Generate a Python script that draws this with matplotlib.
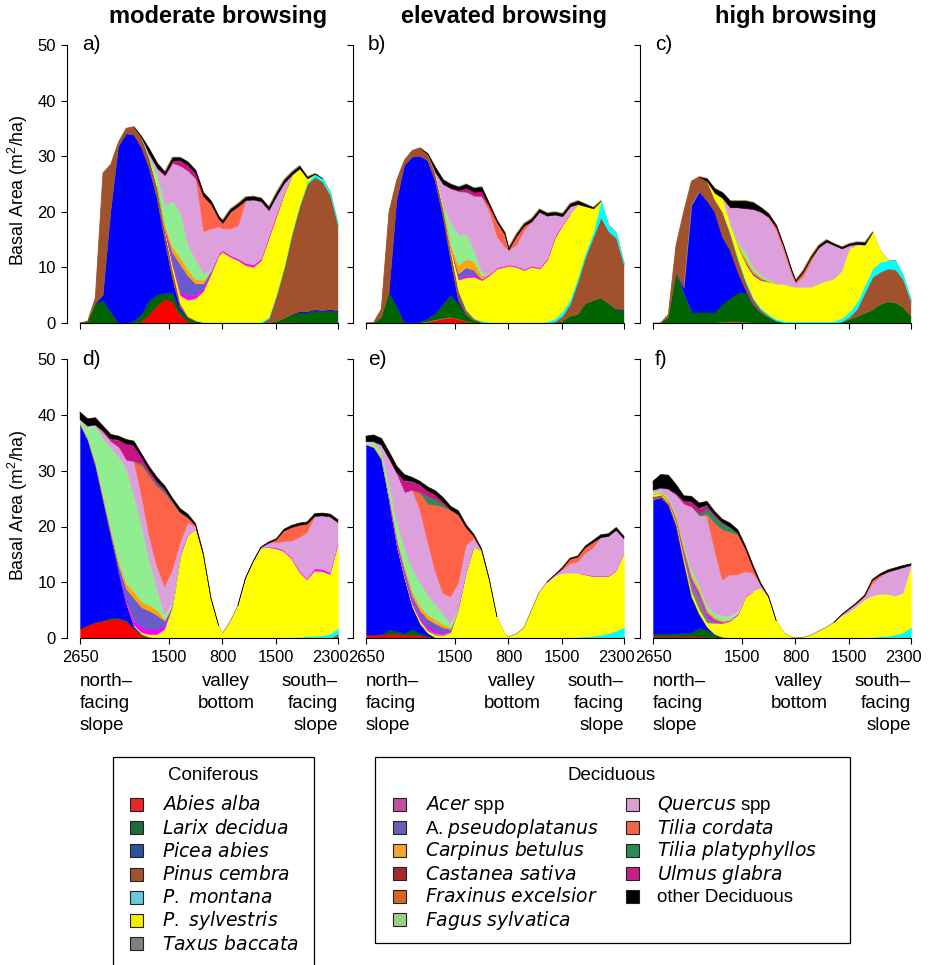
import numpy as np
import matplotlib.pyplot as plt
from matplotlib.patches import Rectangle
from matplotlib.transforms import ScaledTranslation

plt.rcParams['font.family'] = ['Liberation Sans', 'DejaVu Sans']
plt.rcParams['mathtext.fontset'] = 'custom'
plt.rcParams['mathtext.rm'] = 'Liberation Sans'
plt.rcParams['mathtext.it'] = 'DejaVu Sans:italic'

# transect: north-facing slope from 2650 m down to the valley (800 m), then up the south-facing slope
north_elev = [2650, 2550, 2450, 2350, 2250, 2150, 2050, 1950, 1850, 1750,
              1650, 1550, 1450, 1350, 1250, 1150, 1050, 950, 850]
valley_elev = 800
south_elev = [900, 1000, 1100, 1200, 1300, 1400, 1500, 1600, 1700, 1800,
              1900, 2000, 2100, 2200, 2300]
tick_labels = ['2650', '1500', '800', '1500', '2300']

# species codes in stacking order (bottom -> top)
species = ['Aa', 'Ld', 'Pa', 'Pc', 'Pm', 'Ps', 'Tb',
           'Ac', 'Ap', 'Cb', 'Cs', 'Fe', 'Fs', 'Qu', 'Tc', 'Tp', 'Ug', 'oD']

fill_colors = {'Aa': '#FF0000', 'Ld': '#006400', 'Pa': '#0000FF', 'Pc': '#A0522D',
               'Pm': '#00FFFF', 'Ps': '#FFFF00', 'Tb': '#808080', 'Ac': '#FF00FF',
               'Ap': '#6A5ACD', 'Cb': '#FFA500', 'Cs': '#A52A2A', 'Fe': '#D2691E',
               'Fs': '#90EE90', 'Qu': '#DDA0DD', 'Tc': '#FF6347', 'Tp': '#2E8B57',
               'Ug': '#C71585', 'oD': '#000000'}
legend_colors = {'Aa': '#E8262B', 'Ld': '#1E6B3A', 'Pa': '#2F4FA0', 'Pc': '#A0522D',
                 'Pm': '#6BC9D9', 'Ps': '#F5EC00', 'Tb': '#808080', 'Ac': '#C24FA5',
                 'Ap': '#6A5FB0', 'Cb': '#F5A623', 'Cs': '#A52A2A', 'Fe': '#D2691E',
                 'Fs': '#98CF89', 'Qu': '#D8A2CE', 'Tc': '#F26649', 'Tp': '#2E8B57',
                 'Ug': '#C71F8A', 'oD': '#000000'}

# basal area (m2/ha) per species along the transect, one record per elevation step
panel_a = [
    {},                                                                   # 2650
    dict(Ld=.2, Pc=.1),                                                   # 2550
    dict(Ld=3.5, Pc=1),                                                   # 2450
    dict(Ld=4, Pa=1, Pc=22),                                              # 2350
    dict(Ld=2, Pa=18, Pc=8.5),                                            # 2250
    dict(Pa=31.7, Pc=.8),                                                 # 2150
    dict(Pa=34, Pc=1),                                                    # 2050
    dict(Ld=.3, Pa=33.5, Pc=1.5),                                         # 1950
    dict(Aa=.2, Ld=1.3, Pa=30, Pc=1.8, oD=.2),                            # 1850
    dict(Aa=1.5, Ld=2.5, Pa=23.8, Pc=1.7, Fs=.5, Qu=.3, oD=1),            # 1750
    dict(Aa=3, Ld=2, Pa=17.5, Pc=1.8, Ps=.2, Fs=2.2, Qu=1.2, oD=.9),      # 1650
    dict(Aa=4.2, Ld=1.1, Pa=9.7, Pc=1.5, Ps=.2, Ac=.1, Ap=.3, Cb=.5, Fs=3.6, Qu=5.3, Ug=.2, oD=.5),
    dict(Aa=3.8, Ld=1.7, Pa=2.5, Pc=1.5, Ps=.8, Ac=.4, Ap=2, Cb=1, Fs=8.3, Qu=6.8, Ug=.4, oD=.6),
    dict(Aa=1.5, Ld=.8, Pa=.5, Pc=.7, Ps=1.5, Ac=.6, Ap=5, Cb=1.2, Fs=8, Qu=8.5, Ug=1, oD=.5),
    dict(Aa=.2, Ld=.6, Pa=.1, Pc=.3, Ps=3, Ac=.8, Ap=3.5, Cb=1, Fs=4.5, Qu=13.4, Ug=1, oD=.6),
    dict(Ld=.3, Pc=.2, Ps=4, Ac=.6, Ap=2, Cb=.8, Fs=3.5, Qu=14.6, Ug=.9, oD=.6),       # 1150
    dict(Ld=.1, Pm=.1, Ps=5.6, Ac=.5, Ap=.8, Cb=.6, Fs=1.2, Qu=7.6, Tc=6.3, oD=.7),    # 1050
    dict(Pm=.2, Ps=8.7, Ac=.4, Cb=.2, Fs=.2, Qu=7.3, Tc=4.4, oD=.6),     # 950
    dict(Pm=.2, Ps=12, Ac=.3, Qu=4.8, Tc=1.4, oD=.5),                     # 850
    dict(Pm=.2, Ps=12.6, Ac=.3, Qu=3.9, Tc=1, oD=.5),                     # 800
    dict(Pm=.2, Ps=11.7, Ac=.3, Qu=4.8, Tc=3, oD=.5),                     # 900
    dict(Pm=.2, Ps=11.1, Ac=.3, Qu=6, Tc=3.4, oD=.5),                     # 1000
    dict(Pm=.2, Ps=10.2, Ac=.4, Qu=11.3, oD=.6),                          # 1100
    dict(Pm=.2, Ps=9.9, Ac=.4, Qu=11.7, oD=.6),                           # 1200
    dict(Pm=.2, Ps=11.1, Ac=.3, Qu=10.3, oD=.6),                          # 1300
    dict(Pc=.8, Pm=.3, Ps=14.2, Ac=.2, Cb=.2, Qu=4.6, oD=.6),             # 1400
    dict(Ld=.3, Pc=4.7, Pm=.3, Ps=14, Ac=.2, Cb=.2, Qu=3.2, oD=.6),       # 1500
    dict(Aa=.1, Ld=.7, Pc=9.2, Pm=.3, Ps=13, Ac=.1, Qu=1.8, oD=.6),       # 1600
    dict(Aa=.1, Ld=1.4, Pc=14.5, Pm=.3, Ps=10.3, Qu=.1, oD=.5),           # 1700
    dict(Ld=1.8, Pa=.2, Pc=19, Pm=.3, Ps=6.5, oD=.5),                     # 1800
    dict(Ld=1.8, Pa=.2, Pc=23, Pm=.4, Ps=.6, oD=.3),                      # 1900
    dict(Ld=2.2, Pa=.2, Pc=23.9, Pm=.5, oD=.1),                           # 2000
    dict(Ld=2, Pa=.2, Pc=23.2, Pm=.6),                                    # 2100
    dict(Ld=2.2, Pa=.2, Pc=20.6, Pm=.5),                                  # 2200
    dict(Ld=2, Pa=.2, Pc=15.3, Pm=.3),                                    # 2300
]

panel_b = [
    {},                                                                   # 2650
    dict(Pc=.1),                                                          # 2550
    dict(Ld=1, Pc=1.5),                                                   # 2450
    dict(Ld=5.5, Pc=14.5),                                                # 2350
    dict(Ld=3, Pa=19, Pc=3.7),                                            # 2250
    dict(Ld=.1, Pa=28.2, Pc=1),                                           # 2150
    dict(Pa=29.8, Pc=1.2),                                                # 2050
    dict(Ld=.2, Pa=29.8, Pc=1.5),                                         # 1950
    dict(Aa=.2, Ld=.5, Pa=28.5, Pc=1.2, oD=.1),                           # 1850
    dict(Aa=.5, Ld=1.2, Pa=23.8, Pc=1.2, Qu=.4, oD=.9),                   # 1750
    dict(Aa=.8, Ld=2.5, Pa=15.8, Pc=1.4, Ps=.3, Fs=.4, Qu=3.8, oD=.8),    # 1650
    dict(Aa=1, Ld=4, Pa=6.3, Pc=1.5, Ps=.5, Ac=.1, Ap=.1, Cb=.4, Fs=4, Qu=6.3, Ug=.1, oD=.7),
    dict(Aa=.7, Ld=2.8, Pa=.6, Pc=1.7, Ps=2, Ac=.3, Ap=.8, Cb=1.5, Fs=5.5, Qu=7.8, Ug=.2, oD=.6),
    dict(Aa=.3, Ld=1.2, Pc=.8, Pm=.1, Ps=5.8, Ac=.4, Ap=1.4, Cb=1.5, Fs=4.5, Qu=7.6, Ug=.7, oD=.7),
    dict(Ld=.4, Pc=.4, Pm=.1, Ps=7.4, Ac=.4, Ap=.8, Cb=1.5, Fs=2, Qu=9.9, Ug=.7, oD=.7),
    dict(Ld=.1, Pc=.1, Pm=.2, Ps=7.3, Ac=.2, Cb=.6, Fs=.6, Qu=13.7, Ug=.9, oD=.8),   # 1150
    dict(Pm=.2, Ps=8.4, Ac=.2, Qu=11.2, Tc=1, oD=.5),                     # 1050
    dict(Pm=.2, Ps=9.6, Ac=.2, Qu=5.5, Tc=2.6, oD=.4),                    # 950
    dict(Pm=.2, Ps=9.9, Ac=.2, Qu=3.4, Tc=2.2, oD=.4),                    # 850
    dict(Pm=.2, Ps=10.1, Ac=.2, Qu=2.6, Tc=.1, oD=.3),                    # 800
    dict(Pm=.2, Ps=9.9, Ac=.2, Qu=3.8, Tc=1.5, oD=.4),                    # 900
    dict(Pm=.2, Ps=9.3, Ac=.2, Qu=7, Tc=.8, oD=.4),                       # 1000
    dict(Pm=.2, Ps=9.9, Ac=.2, Qu=8, oD=.5),                              # 1100
    dict(Pm=.2, Ps=9.6, Ac=.2, Qu=10, oD=.5),                             # 1200
    dict(Pm=.3, Ps=11, Ac=.2, Qu=7.8, oD=.5),                             # 1300
    dict(Pc=.3, Pm=.5, Ps=14.5, Ac=.1, Cb=.2, Qu=3.9, oD=.5),             # 1400
    dict(Ld=.3, Pc=1, Pm=.8, Ps=15.5, Ac=.1, Qu=1.5, oD=.5),              # 1500
    dict(Ld=1.2, Pc=2.3, Pm=.8, Ps=15.4, Qu=1.3, oD=.5),                  # 1600
    dict(Ld=1.5, Pc=6, Pm=.8, Ps=13, Qu=.1, oD=.6),                       # 1700
    dict(Ld=3.5, Pc=8.5, Pm=.8, Ps=8.2, oD=.4),                           # 1800
    dict(Ld=4, Pc=11.5, Pm=.9, Ps=4.2, oD=.2),                            # 1900
    dict(Ld=4.5, Pc=14.5, Pm=3),                                          # 2000
    dict(Ld=3.5, Pc=13, Pm=1.1),                                          # 2100
    dict(Ld=2.5, Pc=12.8, Pm=.9),                                         # 2200
    dict(Ld=2.2, Pa=.2, Pc=8, Pm=.3),                                     # 2300
]

panel_c = [
    {},                                                                   # 2650
    {},                                                                   # 2550
    dict(Ld=1, Pc=.5),                                                    # 2450
    dict(Ld=9, Pc=5),                                                     # 2350
    dict(Ld=5.3, Pa=1, Pc=13.7),                                          # 2250
    dict(Ld=2, Pa=19.2, Pc=4.3),                                          # 2150
    dict(Ld=2, Pa=21.6, Pc=2.7),                                          # 2050
    dict(Ld=2, Pa=20, Pc=3.5, oD=.5),                                     # 1950
    dict(Ld=2, Pa=18, Pc=2.2, Ps=1.2, oD=.8),                             # 1850
    dict(Aa=.1, Ld=3.4, Pa=12, Pc=4.5, Ps=2.5, oD=1),                     # 1750
    dict(Aa=.2, Ld=4.3, Pa=8.6, Pc=3, Pm=.2, Ps=1.5, Qu=3, oD=1.2),       # 1650
    dict(Aa=.2, Ld=5.3, Pa=3.7, Pc=2.3, Pm=.3, Ps=2, Cb=.3, Fs=.5, Qu=6.2, oD=1.2),
    dict(Aa=.1, Ld=5.4, Pa=.5, Pc=1.5, Pm=.3, Ps=3, Ap=.3, Cb=.6, Fs=1, Qu=7.9, Ug=.1, oD=1.3),
    dict(Ld=3.2, Pa=.1, Pc=1, Pm=.3, Ps=4, Ac=.1, Ap=.3, Cb=.4, Fs=.6, Qu=10.5, oD=1.2),
    dict(Ld=1.8, Pc=.6, Pm=.3, Ps=5, Ac=.1, Ap=.2, Cb=.3, Fs=.4, Qu=11.3, oD=.8),
    dict(Ld=1, Pc=.3, Pm=.3, Ps=5.8, Cb=.2, Fs=.3, Qu=11, Tc=.2, oD=.6),   # 1150
    dict(Ld=.4, Pm=.3, Ps=6.4, Qu=9.6, Tc=.5, oD=.4),                     # 1050
    dict(Ld=.1, Pm=.3, Ps=6.6, Qu=5.8, Tc=.7, oD=.3),                     # 950
    dict(Pm=.3, Ps=6.3, Qu=2, Tc=.6, oD=.3),                              # 850
    dict(Pm=.3, Ps=6.2, Qu=.7, Tc=.3, oD=.2),                             # 800
    dict(Pm=.3, Ps=6.2, Qu=2, Tc=.7, oD=.3),                              # 900
    dict(Pm=.3, Ps=6.2, Qu=4.7, Tc=.5, oD=.3),                            # 1000
    dict(Pm=.3, Ps=6.8, Qu=6.5, oD=.4),                                   # 1100
    dict(Pm=.3, Ps=7.3, Qu=7, oD=.4),                                     # 1200
    dict(Pm=.4, Ps=7.6, Qu=6, oD=.3),                                     # 1300
    dict(Ld=.1, Pc=.2, Pm=.6, Ps=8.5, Qu=4, oD=.3),                       # 1400
    dict(Ld=.6, Pc=.5, Pm=.9, Ps=11.5, Qu=.5, oD=.3),                     # 1500
    dict(Ld=1.1, Pc=1.5, Pm=1.2, Ps=10.2, Qu=.2, oD=.4),                  # 1600
    dict(Ld=1.7, Pc=3.8, Pm=1.3, Ps=7.3, oD=.4),                          # 1700
    dict(Ld=2.3, Pc=6, Pm=1.5, Ps=6.6),                                   # 1800
    dict(Ld=3.3, Pc=5.9, Pm=1.8, Ps=2),                                   # 1900
    dict(Ld=3.8, Pc=6, Pm=1.5),                                           # 2000
    dict(Ld=3.6, Pc=6, Pm=1.6),                                           # 2100
    dict(Ld=2.8, Pc=5, Pm=.7),                                            # 2200
    dict(Ld=1.2, Pc=2.6, Pm=.3),                                          # 2300
]

panel_d = [
    dict(Aa=1.7, Pa=36.6, Cb=.2, Fs=.5, Qu=.2, oD=1.3),                   # 2650
    dict(Aa=2.3, Ld=.1, Pa=33, Ap=.2, Cb=.3, Fs=1.8, Qu=.3, oD=1.3),      # 2550
    dict(Aa=2.8, Ld=.1, Pa=27.8, Ap=.3, Cb=.5, Fs=6.5, Qu=.2, oD=1.3),    # 2450
    dict(Aa=3.1, Ld=.1, Pa=21.2, Ap=.4, Cb=.6, Fs=10.5, Qu=1, Ug=.3, oD=.8),
    dict(Aa=3.4, Ld=.2, Pa=14.5, Ap=.6, Cb=.7, Fs=14.6, Qu=1.3, Ug=.4, oD=.8),
    dict(Aa=3.4, Ld=.2, Pa=8.3, Ap=1, Cb=.8, Fs=18.9, Qu=1.7, Ug=1.2, oD=.7),
    dict(Aa=3, Ld=.2, Pa=3, Ac=.4, Ap=2.2, Cb=1, Fs=20.6, Qu=1.6, Ug=2.8, oD=.8),
    dict(Aa=1.6, Ld=.2, Pa=.3, Ps=.2, Ac=.8, Ap=4, Cb=1.2, Fs=17.3, Qu=6.1, Ug=2.8, oD=.8),
    dict(Aa=.5, Ld=.2, Ps=.3, Ac=1, Ap=3.5, Cb=1, Fs=13.8, Qu=5.1, Tc=5.6, Tp=.4, Ug=1, oD=.6),
    dict(Aa=.1, Ld=.1, Ps=.4, Ac=1, Ap=3.3, Cb=1, Fs=8.1, Qu=4.2, Tc=10.8, Tp=.4, Ug=.7, oD=.6),
    dict(Ps=.6, Ac=1, Ap=2.5, Cb=.9, Fs=3.9, Qu=3.9, Tc=14.4, Tp=.4, Ug=.5, oD=.7),
    dict(Ps=1.5, Ac=.8, Ap=.8, Cb=.3, Fs=.6, Qu=5.2, Tc=16.8, Tp=.3, Ug=.4, oD=.6),
    dict(Ps=5.5, Ac=.3, Ap=.1, Cb=.1, Fs=.1, Qu=6.1, Tc=12, Tp=.2, Ug=.2, oD=.5),
    dict(Ps=14.4, Ac=.2, Qu=2.4, Tc=5.5, Tp=.1, oD=.6),                   # 1350
    dict(Ps=18.4, Ac=.1, Qu=2.1, Tc=1, oD=.6),                            # 1250
    dict(Ps=19.4, Qu=.6, Tc=.2, oD=.3),                                   # 1150
    dict(Ps=15, oD=.2),                                                   # 1050
    dict(Ps=7.1, oD=.1),                                                  # 950
    dict(Ps=2.2),                                                         # 850
    dict(Ps=.8),                                                          # 800
    dict(Ps=2.9),                                                         # 900
    dict(Ps=5.8),                                                         # 1000
    dict(Ps=10.7, oD=.1),                                                 # 1100
    dict(Ps=13.7, oD=.1),                                                 # 1200
    dict(Ps=16.1, Qu=.1, oD=.1),                                          # 1300
    dict(Pm=.1, Ps=16.1, Ac=.1, Qu=.7, oD=.2),                            # 1400
    dict(Pm=.1, Ps=15.9, Ac=.2, Qu=.9, Tc=.5, oD=.2),                     # 1500
    dict(Pm=.1, Ps=15.4, Ac=.2, Qu=1.6, Tc=1.9, oD=.3),                   # 1600
    dict(Pm=.2, Ps=14, Ac=.2, Qu=3, Tc=2.4, oD=.4),                       # 1700
    dict(Pm=.2, Ps=11.6, Ac=.2, Qu=6, Tc=2.2, oD=.4),                     # 1800
    dict(Pm=.3, Ps=10.1, Ac=.2, Qu=8.3, Tc=1.5, oD=.4),                   # 1900
    dict(Pm=.4, Ps=11.6, Ac=.4, Qu=9.4, oD=.5),                           # 2000
    dict(Pm=.5, Ps=11.4, Ac=.4, Qu=9.6, oD=.5),                           # 2100
    dict(Pm=.8, Ps=10.6, Ac=.3, Qu=10, oD=.5),                            # 2200
    dict(Pc=.8, Pm=1, Ps=14.8, Ac=.2, Qu=3.9, oD=.5),                     # 2300
]

panel_e = [
    dict(Aa=.6, Pa=34.1, Cb=.1, Fs=.3, Qu=.1, oD=1),                      # 2650
    dict(Aa=.6, Pa=33.6, Cb=.2, Fs=.6, Qu=.2, oD=1.2),                    # 2550
    dict(Aa=.6, Ld=.1, Pa=31.2, Ap=.2, Cb=.3, Fs=1.2, Qu=1, oD=1.2),      # 2450
    dict(Aa=.7, Ld=.8, Pa=23, Ps=.2, Ap=.3, Cb=.4, Fs=2.4, Qu=4.2, Ug=.3, oD=1.1),
    dict(Aa=.7, Ld=.5, Pa=15.2, Ps=.2, Tb=.2, Ac=.2, Ap=.4, Cb=.5, Fs=3, Qu=8.5, Ug=.3, oD=1.1),
    dict(Aa=.6, Ld=.3, Pa=9.7, Ps=.3, Tb=.3, Ac=.3, Ap=.6, Cb=.6, Fs=3.5, Qu=10, Ug=2, oD=1.1),
    dict(Aa=.6, Ld=1, Pa=4, Ps=.4, Tb=.3, Ac=.4, Ap=.8, Cb=.8, Fs=4, Qu=14.3, Ug=1.5, oD=.7),
    dict(Aa=.5, Ld=.3, Pa=1.8, Ps=.5, Tb=.3, Ac=.5, Ap=1, Cb=.8, Fs=4.3, Qu=13, Tc=3, Tp=.2,
         Ug=1.3, oD=.6),
    dict(Aa=.3, Ld=.1, Pa=.5, Ps=.4, Tb=.3, Ac=.6, Ap=1.2, Cb=.8, Fs=3.6, Qu=9.5, Tc=6.8,
         Tp=1.3, Ug=1, oD=.7),
    dict(Pa=.1, Ps=.5, Tb=.2, Ac=.6, Ap=1.2, Cb=.7, Fs=2.7, Qu=5.9, Tc=12, Tp=1, Ug=.8, oD=.7),
    dict(Ps=.5, Tb=.1, Ac=.5, Ap=.8, Cb=.6, Fs=1.8, Qu=3.7, Tc=15.6, Tp=.4, Ug=.4, oD=.8),
    dict(Ps=1, Ac=.3, Ap=.3, Cb=.3, Fs=.6, Qu=4.9, Tc=15.5, Tp=.1, oD=.6),
    dict(Ps=5, Ac=.2, Qu=4.6, Tc=12.3, oD=.7),                            # 1450
    dict(Ps=11.5, Ac=.1, Qu=5, Tc=3.2, oD=.5),                            # 1350
    dict(Ps=16.2, Qu=1.6, Tc=.4, oD=.4),                                  # 1250
    dict(Ps=15.6, Qu=.2, oD=.2),                                          # 1150
    dict(Ps=10.5, oD=.1),                                                 # 1050
    dict(Ps=3.8),                                                         # 950
    dict(Ps=.7),                                                          # 850
    dict(Ps=.2),                                                          # 800
    dict(Ps=.7),                                                          # 900
    dict(Ps=1.8),                                                         # 1000
    dict(Ps=5),                                                           # 1100
    dict(Ps=8.2),                                                         # 1200
    dict(Ps=9.9, Qu=.1),                                                  # 1300
    dict(Ps=11, Qu=.2, oD=.1),                                            # 1400
    dict(Pm=.05, Ps=11.5, Qu=.6, Tc=.3, oD=.2),                           # 1500
    dict(Pm=.1, Ps=11.5, Qu=1.7, Tc=.8, oD=.2),                           # 1600
    dict(Pm=.2, Ps=11.4, Qu=2, Tc=.9, oD=.2),                             # 1700
    dict(Pm=.3, Ps=11, Ac=.1, Qu=3.8, Tc=1, oD=.3),                       # 1800
    dict(Pm=.4, Ps=10.6, Ac=.1, Qu=5, Tc=1, oD=.4),                       # 1900
    dict(Pm=.6, Ps=10.4, Ac=.1, Qu=6.9, oD=.5),                           # 2000
    dict(Pm=.9, Ps=10.1, Ac=.1, Qu=7.1, oD=.5),                           # 2100
    dict(Pm=1.3, Ps=10.7, Ac=.1, Qu=7.2, oD=.5),                          # 2200
    dict(Pc=.2, Pm=1.8, Ps=13.2, Qu=2.6, oD=.4),                          # 2300
]

panel_f = [
    dict(Aa=.3, Ld=.5, Pa=24, Pc=.6, Ps=.3, Cb=.2, Fs=.2, Qu=.4, oD=1.6),  # 2650
    dict(Aa=.3, Ld=.5, Pa=24.4, Pc=.5, Ps=.3, Cb=.2, Fs=.2, Qu=.5, oD=2.4),
    dict(Aa=.3, Ld=.5, Pa=23, Pc=.4, Ps=.3, Ap=.1, Cb=.3, Fs=.3, Qu=1.5, oD=2.5),
    dict(Aa=.3, Ld=.5, Pa=19.3, Pc=.3, Ps=.4, Tb=.2, Ac=.1, Ap=.2, Cb=.4, Fs=.5, Qu=3.5,
         Ug=.2, oD=1.6),
    dict(Aa=.3, Ld=.6, Pa=12.6, Pc=.2, Ps=.6, Tb=.6, Ac=.3, Ap=.4, Cb=.5, Fs=.8, Qu=7.2,
         Ug=.5, oD=.9),
    dict(Aa=.3, Ld=.7, Pa=6.4, Pc=.1, Ps=.8, Tb=1.4, Ac=.4, Ap=.6, Cb=.6, Fs=1, Qu=11.3,
         Ug=.8, oD=1),
    dict(Aa=.3, Ld=1.5, Pa=2.5, Ps=.8, Tb=2, Ac=.4, Ap=.6, Cb=.6, Fs=.8, Qu=12.5, Tp=.3,
         Ug=1, oD=.9),
    dict(Aa=.2, Ld=1.3, Pa=.5, Ps=.8, Tb=.8, Ac=.5, Ap=.5, Cb=.5, Fs=.8, Qu=15.9, Tc=.5,
         Tp=1, Ug=.5, oD=.7),
    dict(Aa=.1, Ld=.5, Pa=.1, Ps=2, Tb=.2, Ac=.3, Ap=.2, Cb=.3, Fs=.6, Qu=11.5, Tc=4.8,
         Tp=1.2, Ug=.3, oD=.6),
    dict(Ld=.2, Ps=2.5, Ac=.2, Cb=.3, Fs=.8, Qu=6.4, Tc=9.1, Tp=1, Ug=.2, oD=.6),
    dict(Ld=.1, Ps=3, Ac=.2, Fs=.5, Qu=7.5, Tc=7.8, Tp=.8, oD=.7),         # 1650
    dict(Ps=4.2, Ac=.2, Fs=.2, Qu=6.7, Tc=7.3, Tp=.2, oD=.6),              # 1550
    dict(Ps=7.5, Ac=.1, Qu=4.3, Tc=4.1, oD=.5),                            # 1450
    dict(Ps=8.4, Qu=3.2, Tc=.9, oD=.5),                                    # 1350
    dict(Ps=8.9, Qu=.6, oD=.3),                                            # 1250
    dict(Ps=7.3, Qu=.1, oD=.1),                                            # 1150
    dict(Ps=3.1),                                                          # 1050
    dict(Ps=.9),                                                           # 950
    dict(Ps=.1),                                                           # 850
    dict(Ps=.05),                                                          # 800
    dict(Ps=.1),                                                           # 900
    dict(Ps=.5),                                                           # 1000
    dict(Ps=1.2),                                                          # 1100
    dict(Ps=1.9),                                                          # 1200
    dict(Ps=2.8),                                                          # 1300
    dict(Ps=3.9, Qu=.2, oD=.1),                                            # 1400
    dict(Ps=4.6, Qu=.5, Tc=.1, oD=.1),                                     # 1500
    dict(Pm=.05, Ps=5.6, Qu=.5, Tc=.1, oD=.15),                            # 1600
    dict(Pm=.1, Ps=6.7, Qu=.5, Tc=.2, oD=.2),                              # 1700
    dict(Pm=.2, Ps=7.3, Qu=2.2, Tc=.6, oD=.2),                             # 1800
    dict(Pm=.3, Ps=7.5, Qu=3.1, Tc=.3, oD=.3),                             # 1900
    dict(Pm=.4, Ps=7.4, Qu=4, oD=.4),                                      # 2000
    dict(Pm=.7, Ps=6.8, Qu=4.7, oD=.4),                                    # 2100
    dict(Pm=1, Ps=7, Qu=4.6, oD=.4),                                       # 2200
    dict(Pc=.1, Pm=1.9, Ps=10.6, Qu=.4, oD=.3),                            # 2300
]

col_titles = ['moderate browsing', 'elevated browsing', 'high browsing']
panel_letters = ['a)', 'b)', 'c)', 'd)', 'e)', 'f)']

conifer_items = [('Aa', r'$\mathit{Abies\ alba}$'), ('Ld', r'$\mathit{Larix\ decidua}$'),
                 ('Pa', r'$\mathit{Picea\ abies}$'), ('Pc', r'$\mathit{Pinus\ cembra}$'),
                 ('Pm', r'$\mathit{P.\ montana}$'), ('Ps', r'$\mathit{P.\ sylvestris}$'),
                 ('Tb', r'$\mathit{Taxus\ baccata}$')]
decid_col1 = [('Ac', r'$\mathit{Acer}$ spp'), ('Ap', r'A. $\mathit{pseudoplatanus}$'),
              ('Cb', r'$\mathit{Carpinus\ betulus}$'), ('Cs', r'$\mathit{Castanea\ sativa}$'),
              ('Fe', r'$\mathit{Fraxinus\ excelsior}$'), ('Fs', r'$\mathit{Fagus\ sylvatica}$')]
decid_col2 = [('Qu', r'$\mathit{Quercus}$ spp'), ('Tc', r'$\mathit{Tilia\ cordata}$'),
              ('Tp', r'$\mathit{Tilia\ platyphyllos}$'), ('Ug', r'$\mathit{Ulmus\ glabra}$'),
              ('oD', 'other Deciduous')]

# position along the transect (m of elevation walked from the north ridge)
pos = np.array([2650 - e for e in north_elev] + [2650 - valley_elev]
               + [2650 - valley_elev + (e - valley_elev) for e in south_elev], float)
tick_pos = [0, 2650 - 1500, 2650 - valley_elev,
            2650 - valley_elev + (1500 - valley_elev), pos[-1]]

W, H = 930, 965
fig = plt.figure(figsize=(W / 100, H / 100), dpi=100)


def px_axes(x0, y0, x1, y1):
    return fig.add_axes([x0 / W, 1 - y1 / H, (x1 - x0) / W, (y1 - y0) / H])


def draw_panel(ax, records):
    vals = np.array([[r.get(k, 0.0) for r in records] for k in species])
    assert vals.shape[1] == len(pos)
    # thin outline of the whole stack, mostly hidden beneath the fills
    ax.plot(pos, vals.sum(axis=0), color='#B08850', lw=0.8, zorder=0.9)
    base = np.zeros(len(pos))
    for k, t in zip(species, vals):
        if t.max() > 0:
            on = t > 0
            m = on | np.r_[on[1:], False] | np.r_[False, on[:-1]]
            ax.fill_between(pos, base, base + t, where=m, color=fill_colors[k],
                            lw=0.3, ec=fill_colors[k], zorder=1)
        base = base + t


panels = [panel_a, panel_b, panel_c, panel_d, panel_e, panel_f]
spine_x = [67, 353, 640]
zero_y = [323, 638]
px_per_unit = [5.56, 5.575]
pad = 169  # 13 px of padding left/right of the data

for i, recs in enumerate(panels):
    row, col = divmod(i, 3)
    top = zero_y[row] - 52 * px_per_unit[row]
    ax = px_axes(spine_x[col], top, spine_x[col] + 284, zero_y[row])
    draw_panel(ax, recs)
    ax.set_xlim(-pad, pos[-1] + pad)
    ax.set_ylim(0, 52)
    for s in ['top', 'right']:
        ax.spines[s].set_visible(False)
    ax.spines['left'].set_bounds(0, 50)
    ax.spines['bottom'].set_bounds(0, pos[-1])
    for s in ['left', 'bottom']:
        ax.spines[s].set_linewidth(0.8)
    ax.set_yticks(range(0, 51, 10))
    ax.set_xticks(tick_pos)
    ax.tick_params(direction='out', length=4.5, width=0.8, labelsize=12)
    ax.tick_params(axis='x', pad=4.5, labelsize=11.8)
    ax.set_facecolor('none')
    if col > 0:
        ax.set_yticklabels([])
    if row == 0:
        ax.set_xticklabels([])
    else:
        ax.set_xticklabels(tick_labels)
        last = ax.get_xticklabels()[-1]
        last.set_transform(last.get_transform()
                           + ScaledTranslation(-0.08, 0, fig.dpi_scale_trans))
        kw = dict(xycoords='data', textcoords='offset points', va='top',
                  fontsize=13.5, linespacing=1.38, annotation_clip=False)
        ax.annotate('north–\nfacing\nslope', xy=(0, 0), xytext=(0, -25.5), ha='left', **kw)
        ax.annotate('valley\nbottom', xy=(tick_pos[2] + 50, 0), xytext=(0, -25.5),
                    ha='center', **kw)
        ax.annotate('south–\nfacing\nslope', xy=(pos[-1], 0), xytext=(0, -25.5), ha='right',
                    multialignment='right', **kw)
    ax.text(25, 50, panel_letters[i], fontsize=15, va='center', ha='left')

for x, t in zip([218, 504, 796], col_titles):
    fig.text(x / W, 1 - 17 / H, t, ha='center', va='center', fontsize=17, fontweight='bold')
for y in [190, 505]:
    fig.text(18 / W, 1 - y / H, 'Basal Area (m$^2$/ha)', rotation=90, ha='center',
             va='center', fontsize=12.8)

# legends drawn in pixel coordinates on an overlay
lg = fig.add_axes([0, 0, 1, 1])
lg.set_xlim(0, W)
lg.set_ylim(H, 0)
lg.axis('off')


def legend_column(items, sx, tx, y0, dy=23.2):
    for j, (k, label) in enumerate(items):
        y = y0 + j * dy
        lg.add_patch(Rectangle((sx - 6.5, y - 6.5), 13, 13, fc=legend_colors[k],
                               ec='#222222', lw=0.8))
        lg.text(tx, y + 6, label, fontsize=13.5, ha='left', va='baseline')


lg.add_patch(Rectangle((113, 757), 201, 230, fc='none', ec='black', lw=0.9, clip_on=False))
lg.text(213, 775, 'Coniferous', fontsize=13.5, ha='center', va='center')
legend_column(conifer_items, 136.5, 162, 804.5)

lg.add_patch(Rectangle((375, 757), 475, 186, fc='none', ec='black', lw=0.9))
lg.text(612, 775, 'Deciduous', fontsize=13.5, ha='center', va='center')
legend_column(decid_col1, 399.5, 425, 804.5, 23.0)
legend_column(decid_col2, 632.5, 657, 804.5, 23.0)

fig.savefig('out.png', dpi=100)
